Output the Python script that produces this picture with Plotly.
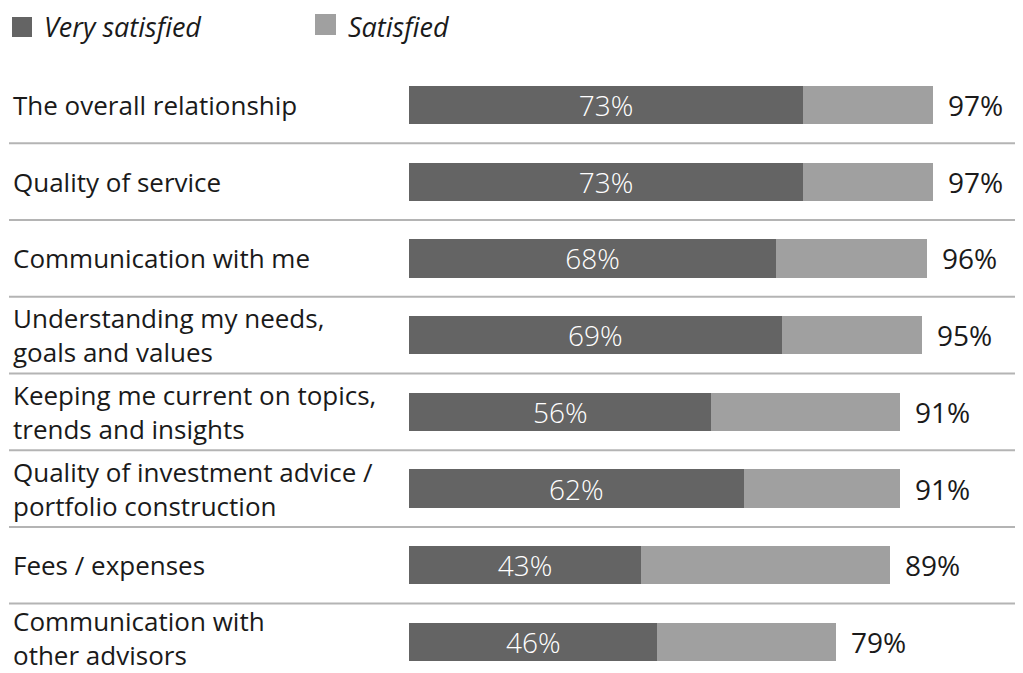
import plotly.graph_objects as go

categories = [
    "The overall relationship",
    "Quality of service",
    "Communication with me",
    "Understanding my needs,<br>goals and values",
    "Keeping me current on topics,<br>trends and insights",
    "Quality of investment advice /<br>portfolio construction",
    "Fees / expenses",
    "Communication with<br>other advisors",
]
very_satisfied = [73, 73, 68, 69, 56, 62, 43, 46]
total_satisfied = [97, 97, 96, 95, 91, 91, 89, 79]
satisfied = [t - v for t, v in zip(total_satisfied, very_satisfied)]

DARK = "#646464"
LIGHT = "#a0a0a0"
TEXT = "#1a1a1a"
SCREEN_W, SCREEN_H = 1023, 673
OFF = 8  # default page body margin
W, H = SCREEN_W - OFF, SCREEN_H - OFF
L, T, B, R = 409 - OFF, 60 - OFF, 0, 0
PW, PH = W - L - R, H - T - B
FONT = "Open Sans"


def px_x(x):
    return (x - OFF - L) / PW


def px_y(y):
    return (H - B - (y - OFF)) / PH


ypos = list(range(len(categories)))

fig = go.Figure()
fig.add_trace(go.Bar(
    y=ypos, x=very_satisfied, orientation="h", name="Very satisfied",
    marker=dict(color=DARK, line=dict(width=0)), width=0.5,
    text=[f"{v}%" for v in very_satisfied], textposition="inside",
    insidetextanchor="middle", constraintext="none",
    textfont=dict(color="white", size=28, family=FONT, weight=300),
    showlegend=False, hoverinfo="skip",
))
fig.add_trace(go.Bar(
    y=ypos, x=satisfied, orientation="h", name="Satisfied",
    marker=dict(color=LIGHT, line=dict(width=0)), width=0.5,
    showlegend=False, hoverinfo="skip",
))

annotations = []
n_cat = len(categories)
for i, (cat, tot) in enumerate(zip(categories, total_satisfied)):
    annotations.append(dict(
        x=px_x(12), xref="paper", y=i, yref="y", text=cat, showarrow=False,
        xanchor="left", yanchor="middle", align="left", borderpad=0,
        yshift=4 if i == n_cat - 1 else 0,
        font=dict(size=26, color=TEXT, family=FONT),
    ))
    annotations.append(dict(
        x=tot, xref="x", y=i, yref="y", text=f"{tot}%", showarrow=False,
        xanchor="left", yanchor="middle", xshift=14, borderpad=0,
        font=dict(size=28, color=TEXT, family=FONT),
    ))

# legend
annotations.append(dict(x=px_x(43), xref="paper", y=px_y(27), yref="paper",
                        text="<i>Very satisfied</i>", showarrow=False,
                        xanchor="left", yanchor="middle", borderpad=0,
                        font=dict(size=27, color=TEXT, family=FONT)))
annotations.append(dict(x=px_x(347), xref="paper", y=px_y(26), yref="paper",
                        text="<i>Satisfied</i>", showarrow=False,
                        xanchor="left", yanchor="middle", borderpad=0,
                        font=dict(size=27, color=TEXT, family=FONT)))

shapes = [
    dict(type="rect", xref="paper", yref="paper", x0=px_x(12), x1=px_x(32),
         y0=px_y(37), y1=px_y(17), fillcolor=DARK, line=dict(width=0)),
    dict(type="rect", xref="paper", yref="paper", x0=px_x(315), x1=px_x(336),
         y0=px_y(35), y1=px_y(14), fillcolor=LIGHT, line=dict(width=0)),
]
for i in range(n_cat - 1):
    shapes.append(dict(type="line", xref="paper", yref="y", x0=px_x(9), x1=1,
                       y0=i + 0.5, y1=i + 0.5,
                       line=dict(color="#b4b4b4", width=2)))

fig.update_layout(
    width=W, height=H, barmode="stack",
    margin=dict(l=L, r=R, t=T, b=B),
    paper_bgcolor="white", plot_bgcolor="white",
    xaxis=dict(range=[0, PW / 5.4], visible=False, fixedrange=True),
    yaxis=dict(range=[7.405, -0.587], visible=False, fixedrange=True),
    annotations=annotations, shapes=shapes,
    font=dict(family=FONT),
)
fig.write_html("out.html")
